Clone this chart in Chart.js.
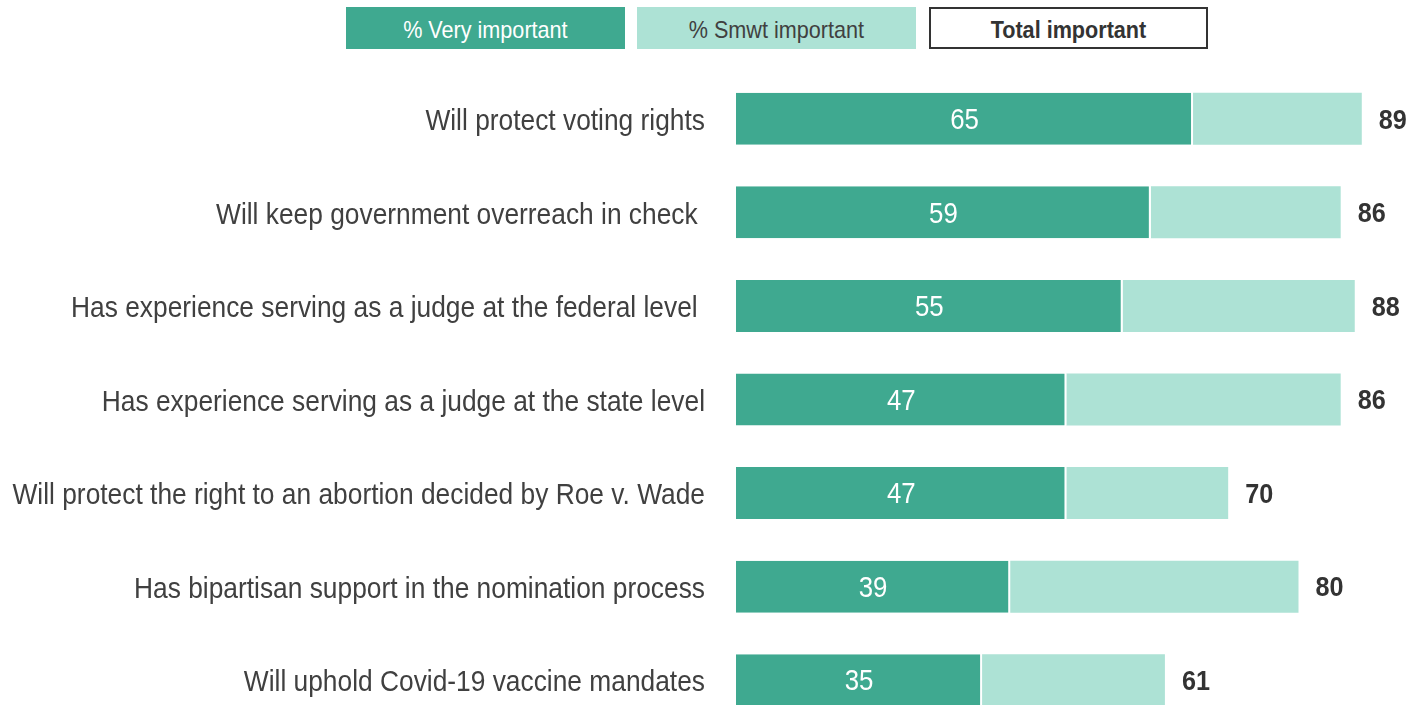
<!DOCTYPE html>
<html>
<head>
<meta charset="utf-8">
<script src="https://cdn.jsdelivr.net/npm/chart.js@4/dist/chart.umd.min.js"></script>
<style>
    body { margin: 0; width: 1411px; height: 705px; overflow: hidden; background: #fff; position: relative; }
    .legend-box {
        position: absolute; top: 7px; height: 42px; width: 279px; box-sizing: border-box;
        font-family: "Liberation Sans", Arial, sans-serif; font-size: 24px; padding-top: 3px;
        display: flex; align-items: center; justify-content: center; color: #404040;
    }
    .legend-box span { display: inline-block; transform: scaleX(0.9); white-space: nowrap; }
    #chart { position: absolute; left: 0; top: 72px; }
</style>
</head>
<body>
<div class="legend-box" style="left:346px; background:#3fa990; color:#fff;"><span>% Very important</span></div>
<div class="legend-box" style="left:637px; background:#ade2d5;"><span>% Smwt important</span></div>
<div class="legend-box" style="left:929px; border:2px solid #333; font-weight:bold; color:#333;"><span>Total important</span></div>
<canvas id="chart" width="1411" height="655"></canvas>
<script>
const categories = [
    'Will protect voting rights',
    'Will keep government overreach in check ',
    'Has experience serving as a judge at the federal level ',
    'Has experience serving as a judge at the state level',
    'Will protect the right to an abortion decided by Roe v. Wade',
    'Has bipartisan support in the nomination process',
    'Will uphold Covid-19 vaccine mandates'
];
const veryImportant = [65, 59, 55, 47, 47, 39, 35];
const totalImportant = [89, 86, 88, 86, 70, 80, 61];
const smwtImportant = totalImportant.map((t, i) => t - veryImportant[i]);

const FONT = '"Liberation Sans", Arial, sans-serif';

// draw text squeezed horizontally (no narrow font installed)
function narrowText(ctx, text, x, y, sx) {
    ctx.save();
    ctx.translate(x, y);
    ctx.scale(sx, 1);
    ctx.fillText(text, 0, 0);
    ctx.restore();
}

// Category labels, values inside dark bars, totals at end of the bars
const barLabels = {
    id: 'barLabels',
    afterDatasetsDraw(chart) {
        const ctx = chart.ctx;
        const yScale = chart.scales.y;
        ctx.save();
        ctx.textBaseline = 'middle';

        ctx.font = `30px ${FONT}`;
        ctx.fillStyle = '#404040';
        ctx.textAlign = 'right';
        categories.forEach((c, i) => {
            narrowText(ctx, c, 705, yScale.getPixelForTick(i) + 3, 0.878);
        });

        const dark = chart.getDatasetMeta(0).data;
        const light = chart.getDatasetMeta(1).data;
        dark.forEach((bar, i) => {
            ctx.font = `30px ${FONT}`;
            ctx.fillStyle = '#fff';
            ctx.textAlign = 'center';
            narrowText(ctx, veryImportant[i], (bar.base + bar.x) / 2, bar.y + 2, 0.86);
        });
        light.forEach((bar, i) => {
            ctx.font = `bold 28px ${FONT}`;
            ctx.fillStyle = '#333';
            ctx.textAlign = 'left';
            narrowText(ctx, totalImportant[i], bar.x + 17, bar.y + 2, 0.9);
        });
        ctx.restore();
    }
};

new Chart(document.getElementById('chart'), {
    type: 'bar',
    data: {
        labels: categories,
        datasets: [{
            label: '% Very important',
            data: veryImportant,
            backgroundColor: '#3fa990',
            borderColor: '#fff',
            borderWidth: { top: 0, right: 2, bottom: 0, left: 0 },
            borderSkipped: false
        }, {
            label: '% Smwt important',
            data: smwtImportant,
            backgroundColor: '#ade2d5',
            borderWidth: 0
        }]
    },
    plugins: [barLabels],
    options: {
        indexAxis: 'y',
        responsive: false,
        animation: false,
        layout: { padding: 0 },
        datasets: {
            bar: { barPercentage: 0.556, categoryPercentage: 1 }
        },
        plugins: {
            legend: { display: false },
            tooltip: { enabled: false }
        },
        scales: {
            x: {
                stacked: true,
                display: false,
                min: 0,
                max: 96
            },
            y: {
                stacked: true,
                grid: { display: false, drawTicks: false },
                border: { display: false },
                ticks: { display: false },
                afterFit: (scale) => { scale.width = 736; }
            }
        }
    }
});
</script>
</body>
</html>
